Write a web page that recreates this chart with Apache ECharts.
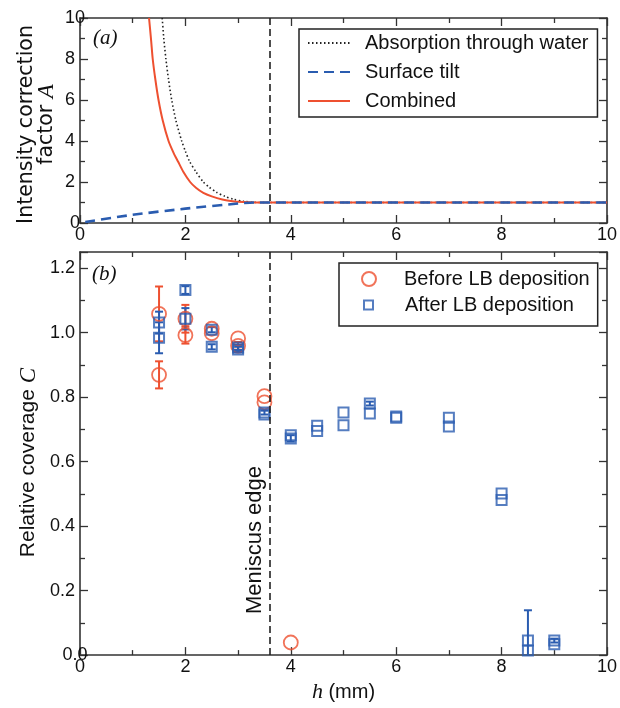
<!DOCTYPE html>
<html><head><meta charset="utf-8">
<script src="https://cdn.jsdelivr.net/npm/echarts@6/dist/echarts.min.js"></script>
<style>html,body{margin:0;padding:0;background:#fff}#c{width:620px;height:708px}</style>
</head><body><div id="c"></div>
<script>
// ---------- Panel (a): intensity correction factor A vs h ----------
const absorptionH = [1.56, 1.59, 1.63, 1.68, 1.74, 1.82, 1.93, 2.00, 2.08, 2.20, 2.34, 2.45, 2.59, 2.75, 2.91, 3.10, 3.30, 3.50, 10];
const absorptionA = [10, 9, 8, 7, 6, 5, 4, 3.5, 3, 2.5, 2, 1.75, 1.5, 1.3, 1.16, 1.06, 1.01, 1.0, 1.0];
const tiltH = [0.1, 1, 2, 3, 3.3, 10];
const tiltA = [0.05, 0.4, 0.7, 0.95, 1.0, 1.0];
const combinedH = [1.31, 1.35, 1.38, 1.43, 1.49, 1.57, 1.68, 1.78, 1.86, 1.96, 2.09, 2.20, 2.34, 2.50, 2.70, 2.90, 3.10, 3.30, 10];
const combinedA = [10, 8.9, 8, 7, 6, 5, 4, 3.4, 3, 2.5, 2, 1.72, 1.47, 1.3, 1.15, 1.06, 1.02, 1.0, 1.0];
const meniscusH = 3.6;

// ---------- Panel (b): relative coverage C vs h ----------
const beforeH   = [1.5, 1.5, 2, 2, 2.5, 2.5, 3, 3, 3.5, 3.5, 4];
const beforeC   = [1.058, 0.869, 1.043, 0.992, 1.012, 0.998, 0.982, 0.959, 0.803, 0.784, 0.039];
const beforeErr = [0.085, 0.042, 0.043, 0.026, 0, 0, 0, 0.012, 0, 0, 0];

const afterH   = [1.5, 1.5, 2, 2, 2.5, 2.5, 3, 3, 3.5, 3.5, 4, 4, 4.5, 4.5, 5, 5, 5.5, 5.5, 6, 6, 7, 7, 8, 8, 8.5, 8.5, 9, 9];
const afterC   = [1.031, 0.984, 1.132, 1.043, 1.009, 0.956, 0.954, 0.948, 0.752, 0.746, 0.682, 0.672, 0.711, 0.695, 0.752, 0.713, 0.780, 0.749, 0.740, 0.736, 0.736, 0.709, 0.501, 0.481, 0.045, 0.014, 0.045, 0.034];
const afterErr = [0.034, 0.048, 0.012, 0.033, 0.008, 0.008, 0.008, 0.008, 0.006, 0, 0, 0.01, 0, 0, 0, 0, 0.006, 0, 0, 0, 0, 0, 0, 0, 0.094, 0, 0.006, 0];

// tick settings
const xMin = 0, xMax = 10, xStep = 2;
const aMin = 0, aMax = 10, aStep = 2;
const cMin = 0, cMax = 1.25, cStep = 0.2;

const RED = '#ee5030', BLUE = '#2a5cb0', INK = '#222';
const SANS = 'Liberation Sans';
const zip = (a, b) => a.map((v, i) => [v, b[i]]);
const errRows = (h, c, e) => h.map((v, i) => [v, c[i] - e[i], c[i] + e[i], e[i]]).filter(r => r[3] > 0);

function errRender(color) {
  return function (params, api) {
    const x = api.value(0), lo = api.value(1), hi = api.value(2);
    const a = api.coord([x, hi]), b = api.coord([x, lo]);
    const w = 4, style = { stroke: color, lineWidth: 2 };
    return { type: 'group', children: [
      { type: 'line', shape: { x1: a[0], y1: a[1], x2: b[0], y2: b[1] }, style },
      { type: 'line', shape: { x1: a[0] - w, y1: a[1], x2: a[0] + w, y2: a[1] }, style },
      { type: 'line', shape: { x1: b[0] - w, y1: b[1], x2: b[0] + w, y2: b[1] }, style }
    ]};
  };
}

const axLine = { show: true, onZero: false, lineStyle: { color: '#333', width: 1.6 } };
const tick = { show: true, inside: true, length: 8, lineStyle: { color: '#333', width: 1.3 } };
const minor = { show: true, splitNumber: 2, length: 5, lineStyle: { color: '#333', width: 1.3 } };
const lab = { color: '#111', fontSize: 18, fontFamily: SANS };

function xAx(grid, pos, show, name) {
  return {
    type: 'value', gridIndex: grid, position: pos, min: xMin, max: xMax, interval: xStep,
    axisLine: axLine, axisTick: tick, minorTick: minor, splitLine: { show: false },
    axisLabel: Object.assign({ show: show, margin: 3, alignMinLabel: 'center', alignMaxLabel: 'center', hideOverlap: false }, lab),
    name: name || '', nameLocation: 'middle', nameGap: 19,
    nameTextStyle: { rich: {
      i: { fontFamily: 'Liberation Serif', fontStyle: 'italic', fontSize: 22, color: '#111' },
      n: { fontFamily: SANS, fontSize: 20, color: '#111' } } }
  };
}
function yAx(grid, pos, show, min, max, step, extra) {
  return Object.assign({
    type: 'value', gridIndex: grid, position: pos, min: min, max: max, interval: step,
    axisLine: axLine, axisTick: tick, minorTick: minor, splitLine: { show: false },
    axisLabel: Object.assign({ show: show, margin: 5, alignMinLabel: 'center', alignMaxLabel: 'center' }, lab)
  }, extra || {});
}

const lineLegendStyle = { color: 'rgba(0,0,0,0)', borderColor: 'rgba(0,0,0,0)', borderWidth: 0 };

const option = {
  animation: false,
  backgroundColor: '#fff',
  grid: [
    { left: 80, right: 13, top: 18, height: 205 },
    { left: 80, right: 13, top: 252, height: 408 }
  ],
  xAxis: [
    xAx(0, 'bottom', true),
    xAx(0, 'top', false),
    xAx(1, 'bottom', true, '{i|h}{n| (mm)}'),
    xAx(1, 'top', false)
  ],
  yAxis: [
    yAx(0, 'left', true, aMin, aMax, aStep, {
      name: '{n|Intensity correction}\n{n|factor }{i|A}', nameLocation: 'middle', nameRotate: 90, nameGap: 23,
      nameMoveOverlap: false,
      nameTextStyle: { align: 'center', padding: [0, 8, 0, 0], rich: {
        n: { fontFamily: 'DejaVu Sans', fontSize: 20.5, lineHeight: 20, color: '#111' },
        i: { fontFamily: 'Liberation Serif', fontStyle: 'italic', fontSize: 23, lineHeight: 20, color: '#111' } } }
    }),
    yAx(0, 'right', false, aMin, aMax, aStep),
    yAx(1, 'left', true, cMin, cMax, cStep, {
      name: '{n|Relative coverage }{i|C}', nameLocation: 'middle', nameRotate: 90, nameGap: 40,
      nameMoveOverlap: false,
      nameTextStyle: { padding: [0, 18, 0, 0], rich: {
        n: { fontFamily: SANS, fontSize: 21, color: '#111' },
        i: { fontFamily: 'Liberation Serif', fontStyle: 'italic', fontSize: 23, color: '#111' } } },
      axisLabel: Object.assign({ show: true, margin: 5, showMaxLabel: false, alignMinLabel: 'center', formatter: v => v.toFixed(1) }, lab)
    }),
    yAx(1, 'right', false, cMin, cMax, cStep)
  ],
  legend: [
    {
      data: [
        { name: 'Absorption through water', itemStyle: lineLegendStyle },
        { name: 'Surface tilt', itemStyle: lineLegendStyle },
        { name: 'Combined', itemStyle: lineLegendStyle }
      ],
      orient: 'vertical', left: 299, top: 29, itemWidth: 42, itemHeight: 12, itemGap: 9,
      padding: [4, 9, 6, 8], borderColor: INK, borderWidth: 1.5, selectedMode: false,
      textStyle: { fontFamily: SANS, fontSize: 20, color: '#111', lineHeight: 20, padding: [0, 0, 0, 10] }
    },
    {
      data: ['Before LB deposition'],
      orient: 'vertical', left: 339, top: 263, itemWidth: 14, itemHeight: 14,
      padding: [6, 8, 37, 22], borderColor: INK, borderWidth: 1.5, selectedMode: false,
      textStyle: { fontFamily: SANS, fontSize: 20, color: '#111', lineHeight: 20, padding: [0, 0, 0, 23] }
    },
    {
      data: ['After LB deposition'],
      orient: 'vertical', left: 363, top: 295, itemWidth: 9, itemHeight: 9,
      padding: 0, selectedMode: false,
      textStyle: { fontFamily: SANS, fontSize: 20, color: '#111', lineHeight: 20, padding: [0, 0, 0, 27] }
    }
  ],
  graphic: [
    { type: 'text', left: 93, top: 28, style: { text: '(a)', font: 'italic 21px "Liberation Serif"', fill: '#111' } },
    { type: 'text', left: 92, top: 264, style: { text: '(b)', font: 'italic 21px "Liberation Serif"', fill: '#111' } },
    { type: 'text', x: 255, y: 540, rotation: Math.PI / 2,
      style: { text: 'Meniscus edge', font: '22px "Liberation Sans"', fill: '#111', align: 'center', verticalAlign: 'middle' } }
  ],
  series: [
    {
      name: 'Absorption through water', type: 'line', xAxisIndex: 0, yAxisIndex: 0,
      data: zip(absorptionH, absorptionA), symbol: 'none', smooth: 0.25, clip: true,
      lineStyle: { color: INK, width: 1.6, type: [1.5, 2.5] }, itemStyle: { color: INK },
      markLine: { silent: true, symbol: 'none', label: { show: false },
        lineStyle: { color: INK, width: 1.6, type: [7, 4] }, data: [{ xAxis: meniscusH }] }
    },
    {
      name: 'Combined', type: 'line', xAxisIndex: 0, yAxisIndex: 0,
      data: zip(combinedH, combinedA), symbol: 'none', smooth: 0.25, clip: true,
      lineStyle: { color: RED, width: 2 }, itemStyle: { color: RED }
    },
    {
      name: 'Surface tilt', type: 'line', xAxisIndex: 0, yAxisIndex: 0,
      data: zip(tiltH, tiltA), symbol: 'none', smooth: 0.25, clip: true,
      lineStyle: { color: BLUE, width: 2.6, type: [10, 6] }, itemStyle: { color: BLUE }
    },
    {
      name: 'errBefore', type: 'custom', xAxisIndex: 2, yAxisIndex: 2, clip: true,
      data: errRows(beforeH, beforeC, beforeErr), renderItem: errRender(RED), silent: true,
      markLine: { silent: true, symbol: 'none', label: { show: false },
        lineStyle: { color: INK, width: 1.6, type: [7, 4] }, data: [{ xAxis: meniscusH }] }
    },
    {
      name: 'Before LB deposition', type: 'scatter', xAxisIndex: 2, yAxisIndex: 2,
      data: zip(beforeH, beforeC), symbol: 'circle', symbolSize: 14,
      itemStyle: { color: 'rgba(255,255,255,0)', borderColor: RED, borderWidth: 1.8 }
    },
    {
      name: 'errAfter', type: 'custom', xAxisIndex: 2, yAxisIndex: 2, clip: true,
      data: errRows(afterH, afterC, afterErr), renderItem: errRender(BLUE), silent: true
    },
    {
      name: 'After LB deposition', type: 'scatter', xAxisIndex: 2, yAxisIndex: 2,
      data: zip(afterH, afterC), symbol: 'rect', symbolSize: 10,
      itemStyle: { color: 'rgba(255,255,255,0)', borderColor: BLUE, borderWidth: 2 }
    }
  ]
};

const chart = echarts.init(document.getElementById('c'), null, { renderer: 'canvas' });
chart.setOption(option);
</script>
</body></html>
